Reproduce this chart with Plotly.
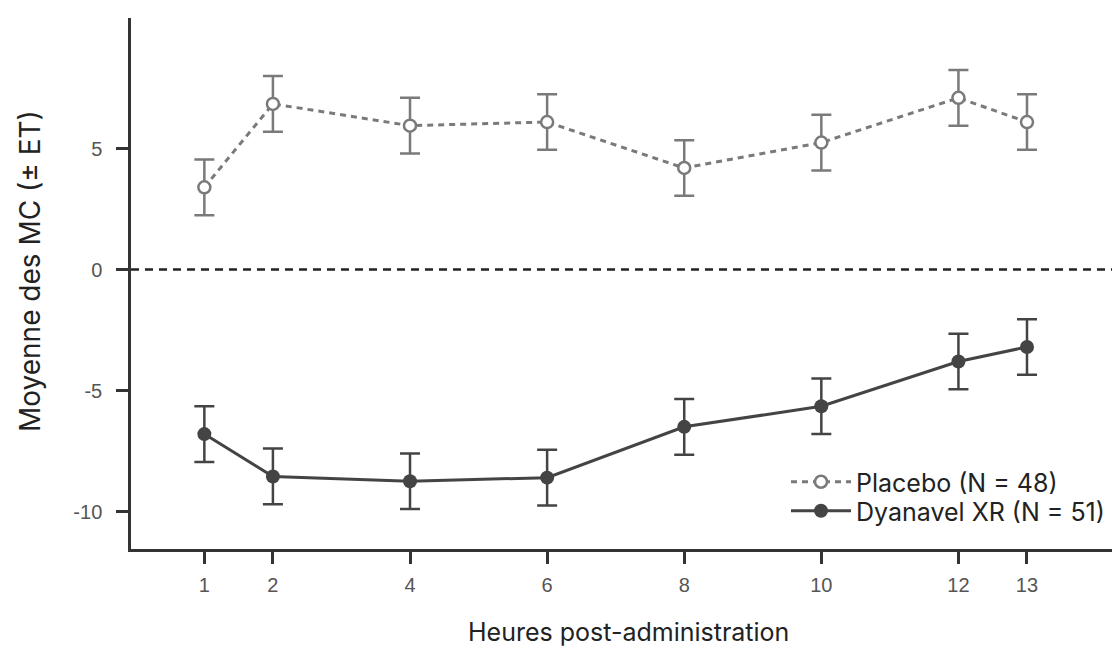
import plotly.graph_objects as go

hours = [1, 2, 4, 6, 8, 10, 12, 13]
placebo_mean = [3.4, 6.85, 5.95, 6.1, 4.2, 5.25, 7.1, 6.1]
placebo_se = [1.15, 1.15, 1.15, 1.15, 1.15, 1.15, 1.15, 1.15]
dyan_mean = [-6.8, -8.55, -8.75, -8.6, -6.5, -5.65, -3.8, -3.2]
dyan_se = [1.15, 1.15, 1.15, 1.15, 1.15, 1.15, 1.15, 1.15]
xtick_vals = [1, 2, 4, 6, 8, 10, 12, 13]
ytick_vals = [-10, -5, 0, 5]

placebo_color = "#7a7a7a"
dyan_color = "#444444"

W, H = 1114, 646
ML, MT = 131, 18
MB = H - 549
MR = W - 1112
PW, PH = W - ML - MR, H - MT - MB


def px_x(px):
    return (px - ML) / PW


def px_y(py):
    return (H - MB - py) / PH


fig = go.Figure()

fig.add_trace(go.Scatter(
    x=hours, y=placebo_mean, mode="lines+markers", name="Placebo (N = 48)",
    legend="legend",
    line=dict(color=placebo_color, width=3, dash="6px,5px"),
    marker=dict(symbol="circle", size=12, color="white",
                line=dict(color=placebo_color, width=2.5)),
    error_y=dict(type="data", array=placebo_se, visible=True,
                 color=placebo_color, thickness=2.5, width=10),
))
fig.add_trace(go.Scatter(
    x=hours, y=dyan_mean, mode="lines+markers", name="Dyanavel XR (N = 51)",
    legend="legend2",
    line=dict(color=dyan_color, width=3),
    marker=dict(symbol="circle", size=14, color=dyan_color),
    error_y=dict(type="data", array=dyan_se, visible=True,
                 color=dyan_color, thickness=2.5, width=10),
))

fig.add_shape(type="line", xref="paper", x0=0, x1=1, yref="y", y0=0, y1=0,
              line=dict(color="#222222", width=2.5, dash="8px,6px"), layer="below")

tick_font = dict(family="Liberation Sans, Arial, sans-serif", size=20, color="#555555")
title_family = "Inter, sans-serif"

fig.add_annotation(text="Moyenne des MC (± ET)", xref="paper", yref="paper",
                   x=px_x(30), y=px_y(271), xanchor="center", yanchor="middle",
                   textangle=-90, showarrow=False,
                   font=dict(family=title_family, size=28, color="#222222"))
fig.add_annotation(text="Heures post-administration", xref="paper", yref="paper",
                   x=px_x(628), y=px_y(632), xanchor="center", yanchor="middle",
                   showarrow=False,
                   font=dict(family=title_family, size=25, color="#222222"))

legend_common = dict(xanchor="left", yanchor="top",
                     font=dict(family=title_family, size=25, color="#222222"),
                     bgcolor="rgba(0,0,0,0)", itemwidth=60)

fig.update_layout(
    width=W, height=H,
    margin=dict(l=ML, r=MR, t=MT, b=MB),
    plot_bgcolor="white", paper_bgcolor="white",
    showlegend=True,
    legend=dict(x=px_x(786), y=px_y(459), **legend_common),
    legend2=dict(x=px_x(786), y=px_y(488), **legend_common),
    xaxis=dict(
        range=[-0.07, 14.24], tickmode="array", tickvals=xtick_vals,
        ticktext=[str(v) for v in xtick_vals], automargin=False,
        showline=True, linecolor="#333333", linewidth=2.5,
        ticks="outside", ticklen=12, tickwidth=2.5, tickcolor="#333333",
        ticklabelstandoff=4,
        showgrid=False, zeroline=False, tickfont=tick_font,
    ),
    yaxis=dict(
        range=[-11.55, 10.4], tickmode="array", tickvals=ytick_vals,
        ticktext=[str(v) for v in ytick_vals], automargin=False,
        showline=True, linecolor="#333333", linewidth=2.5,
        ticks="outside", ticklen=12, tickwidth=2.5, tickcolor="#333333",
        ticklabelstandoff=10,
        showgrid=False, zeroline=False, tickfont=tick_font,
    ),
)

fig.write_html("out.html",
               config={"displayModeBar": False},
               post_script="document.body.style.margin='0';document.body.style.overflow='hidden';")
